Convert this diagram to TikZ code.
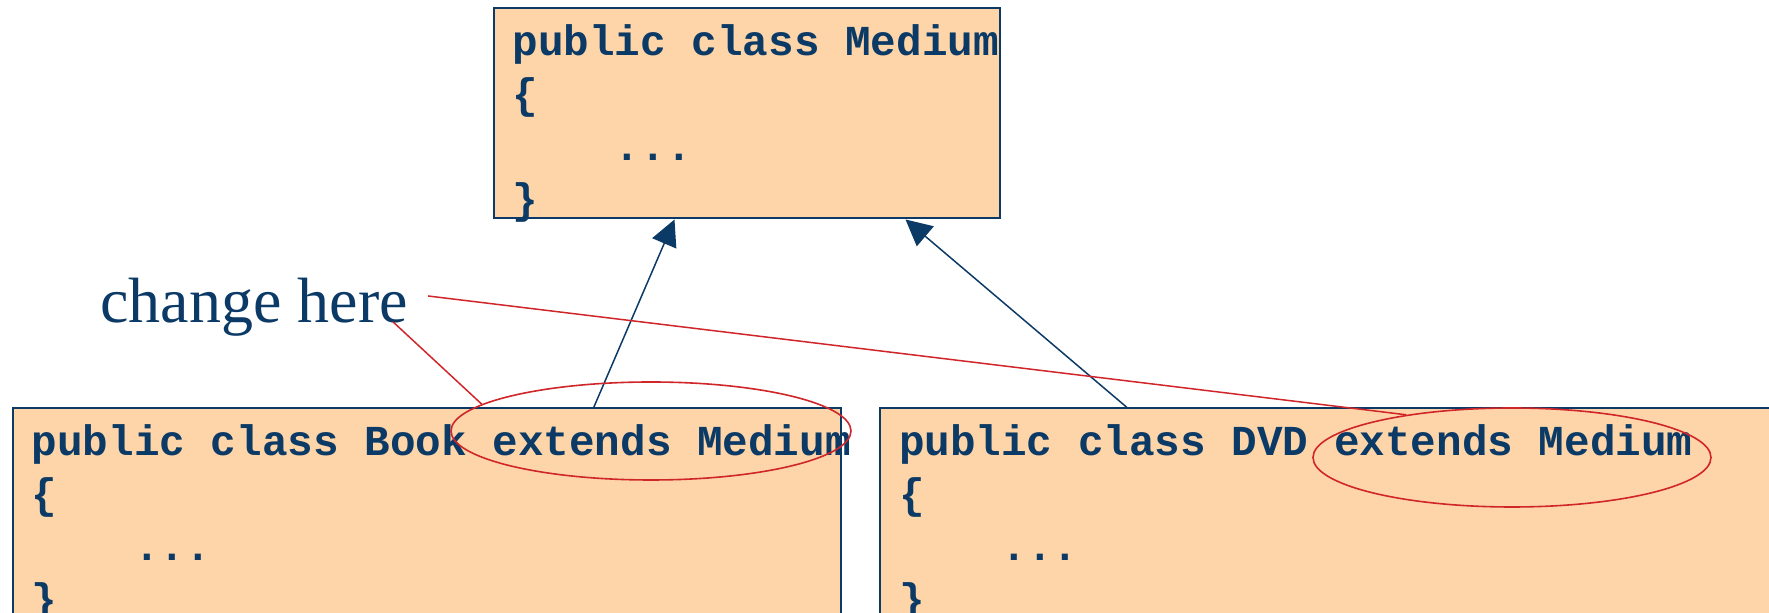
\documentclass[tikz,border=0pt]{standalone}
\usepackage{fontspec}
\setmainfont{Liberation Serif}
\newfontfamily\codefont{Liberation Mono}
\usetikzlibrary{arrows.meta,calc,shapes.geometric}
\definecolor{navy}{RGB}{12,58,102}
\definecolor{peach}{RGB}{253,213,168}
\definecolor{ringred}{RGB}{208,38,42}
% four code lines of a class
\newcommand{\javaclass}[2]{\makebox[#1][l]{\vtop{\codefont\bfseries\fontsize{21.33pt}{26.3pt}\selectfont
  \hbox{#2}\hbox{\{}\hbox{\ \ \ \ ...}\hbox{\}}}}}
\begin{document}
\begin{tikzpicture}[x=0.5pt,y=-0.5pt,
  classbox/.style={draw=navy,line width=1pt,fill=peach,text=navy,anchor=north west,
    inner xsep=9.5pt,inner ysep=8.5pt,text height=15pt,text depth=#1},
  ring/.style={draw=ringred,line width=0.8pt,ellipse,inner sep=0pt},
  inherit/.style={draw=navy,line width=0.75pt,-{Triangle[length=13pt,width=13pt]}},
  pointer/.style={draw=ringred,line width=0.75pt}]
\useasboundingbox (0,0) rectangle (1769,613);
\clip (0,0) rectangle (1769,613);
% draw the class boxes
\node[classbox=73pt] (medium) at (492.5,7.5) {\javaclass{234pt}{public class Medium}};
\node[classbox=150pt] (book) at (11.7,407.5) {\javaclass{395pt}{public class Book extends Medium}};
\node[classbox=150pt] (dvd) at (879,407.5) {\javaclass{431pt}{public class DVD extends Medium}};

% draw inheritance arrows
\draw[inherit] ($(book.north west)+(582,0)$) -- ($(medium.south west)+(182,0)$);
\draw[inherit] ($(dvd.north west)+(248,0)$) -- ($(medium.south west)+(413,0)$);

% mark the changed lines
\node[ring,minimum width=200pt,minimum height=49pt] (bookring) at (651,431) {};
\node[ring,minimum width=199pt,minimum height=49.5pt] (dvdring) at (1512,457.5) {};

% note and its pointers
\node[text=navy,font=\fontsize{32pt}{38pt}\selectfont,inner sep=0pt,anchor=base west] (change) at (100,323) {change here};
\draw[pointer] ($(change.base east)+(20,-27)$) -- (dvdring.158);
\draw[pointer] ($(change.base east)+(-15,-1)$) -- (bookring.171);
\end{tikzpicture}
\end{document}
